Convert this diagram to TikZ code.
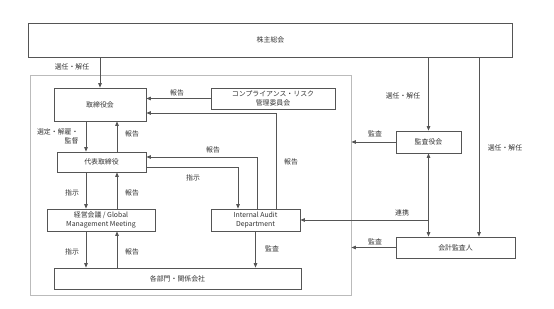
\documentclass[tikz,border=0pt]{standalone}
\usepackage{fontspec}
\setmainfont{Noto Sans CJK JP}
\usepackage{tikz}
\usetikzlibrary{arrows.meta}
\definecolor{boxgray}{HTML}{555555}
\definecolor{framegray}{HTML}{BBBBBB}
\definecolor{textgray}{HTML}{333333}

\begin{document}
\begin{tikzpicture}[x=1pt, y=-1pt,
  every node/.style={font=\fontsize{6.9}{9.2}\selectfont, text=textgray},
  box/.style={draw=boxgray, line width=0.8pt, fill=white, inner sep=0pt, align=center},
  arr/.style={draw=boxgray, line width=0.8pt, -{Triangle[length=4.5pt,width=3.6pt]}},
  arrboth/.style={draw=boxgray, line width=0.8pt, {Triangle[length=4.5pt,width=3.6pt]}-{Triangle[length=4.5pt,width=3.6pt]}}]
  \useasboundingbox (0,0) rectangle (554,308);
  % company frame
  \node[draw=framegray, line width=0.8pt, minimum width=321pt, minimum height=220pt, inner sep=0pt] (co) at (190.5,185) {};
  % boxes
  \node[box, minimum width=484pt, minimum height=34pt] (gm) at (270.5,40) {株主総会};
  \node[box, minimum width=92pt, minimum height=33pt] (bod) at (100,104.5) {取締役会};
  \node[box, minimum width=124pt, minimum height=21pt] (crc) at (273,98.5) {コンプライアンス・リスク\\管理委員会};
  \node[box, minimum width=89pt, minimum height=20pt] (ceo) at (101.5,162) {代表取締役};
  \node[box, minimum width=108pt, minimum height=22pt] (gmm) at (101,220) {経営会議 / Global\\Management Meeting};
  \node[box, minimum width=89pt, minimum height=22pt] (iad) at (255.5,220) {Internal Audit\\Department};
  \node[box, minimum width=247pt, minimum height=21pt] (div) at (177.5,278.5) {各部門・関係会社};
  \node[box, minimum width=65pt, minimum height=22pt] (asb) at (428.5,142) {監査役会};
  \node[box, minimum width=119pt, minimum height=21pt] (aud) at (455.5,247.5) {会計監査人};
  % lanes
  \coordinate (dn) at (86,0);
  \coordinate (up) at (117,0);
  \coordinate (gmr) at (479,0);
  % connectors
  \draw[arr] (gm.south -| bod) -- (bod.north);
  \draw[arr] (crc.west) -- (crc.west -| bod.east);
  \draw[arr] ([xshift=20.5pt]iad.north) |- ([yshift=-8.5pt]bod.east);
  \draw[arr] (bod.south -| dn) -- (ceo.north -| dn);
  \draw[arr] (ceo.north -| up) -- (bod.south -| up);
  \draw[arr] ([xshift=1.5pt]iad.north) |- ([yshift=5pt]ceo.east);
  \draw[arr] ([yshift=-5pt]ceo.east) -| ([xshift=-17.5pt]iad.north);
  \draw[arr] (ceo.south -| dn) -- (gmm.north -| dn);
  \draw[arr] (gmm.north -| up) -- (ceo.south -| up);
  \draw[arr] (gmm.south -| dn) -- (div.north -| dn);
  \draw[arr] (div.north -| up) -- (gmm.south -| up);
  \draw[arr] (iad.south) -- (iad.south |- div.north);
  \draw[arr] (gm.south -| asb) -- (asb.north);
  \draw[arr] (gm.south -| gmr) -- (aud.north -| gmr);
  \draw[arr] (asb.west) -- (asb.west -| co.east);
  \draw[arr] (aud.west) -- (aud.west -| co.east);
  \draw[arrboth] (asb.south) -- (asb.south |- aud.north);
  \draw[arr] (asb.south |- iad.east) -- (iad.east);
  % labels
  \node (l1) at (72,67) {選任・解任};
  \node (l2) at (177,93) {報告};
  \node[anchor=east, align=right] (l3) at (82,136) {選定・解雇・\\監督};
  \node (l4) at (132,134) {報告};
  \node (l5) at (213,150) {報告};
  \node (l6) at (193,178) {指示};
  \node (l7) at (291,162) {報告};
  \node (l8) at (72,193) {指示};
  \node (l9) at (132,193) {報告};
  \node (l10) at (72,252) {指示};
  \node (l11) at (132,252) {報告};
  \node (l12) at (272,249) {監査};
  \node (l13) at (375,134) {監査};
  \node (l14) at (375,242) {監査};
  \node (l15) at (402,213) {連携};
  \node (l16) at (403,96) {選任・解任};
  \node (l17) at (505,148) {選任・解任};
\end{tikzpicture}
\end{document}
